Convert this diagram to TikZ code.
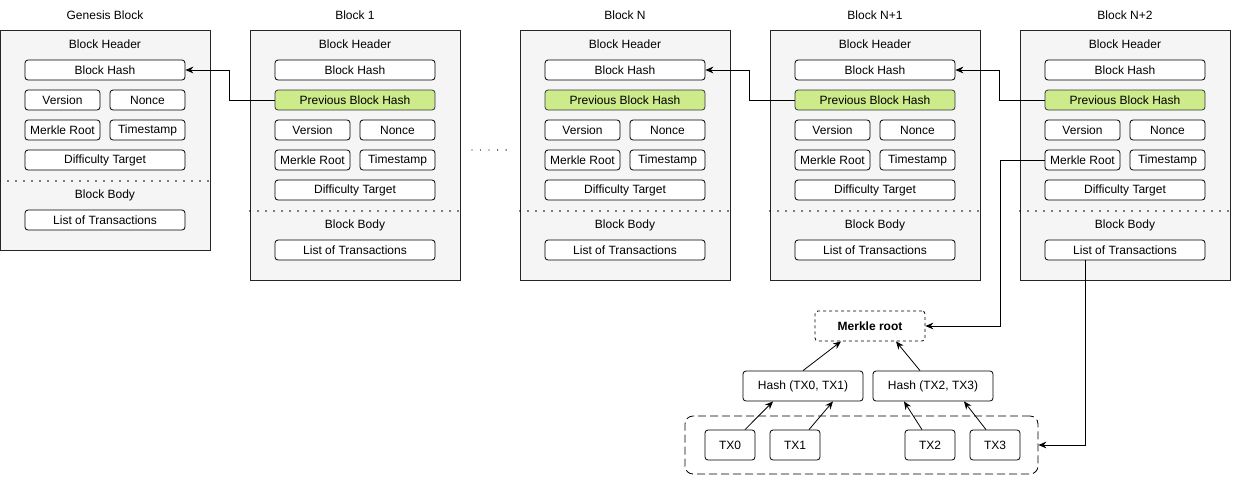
\documentclass[tikz,border=0pt]{standalone}
\usepackage{fontspec}
\setmainfont{Liberation Sans}
\usetikzlibrary{positioning,calc,arrows.meta}
\definecolor{bodygray}{HTML}{F5F5F5}
\definecolor{prevgreen}{HTML}{CDEB8B}
\definecolor{prevline}{HTML}{36393D}
\newcommand*{\txt}{\fontsize{9}{10}\selectfont}
% One chained block: #1 name, #2 left edge, #3 title
\newcommand*{\blk}[3]{%
  \node (#1t) at (#2+105,15) {#3};
  \node[outer,minimum height=187.5pt] (#1) at (#2+105,155) {};
  \node (#1head) at (#2+105,44) {Block Header};
  \node[full] (#1hash) at (#2+105,70) {Block Hash};
  \node[full,prev] (#1prev) at (#2+105,100) {Previous Block Hash};
  \node[half] (#1ver) at (#2+62.5,130) {Version};
  \node[half] (#1non) at (#2+147.5,130) {Nonce};
  \node[half] (#1mrk) at (#2+62.5,160) {Merkle Root};
  \node[half] (#1tim) at (#2+147.5,160) {Timestamp};
  \node[full] (#1dif) at (#2+105,190) {Difficulty Target};
  \draw[sep] (#2,211) -- (#2+210,211);
  \node (#1body) at (#2+105,225) {Block Body};
  \node[full] (#1lst) at (#2+105,250) {List of Transactions};
}

\begin{document}
\begin{tikzpicture}[x=0.75pt,y=-0.75pt,line width=0.6pt,
  every node/.style={font=\txt},
  outer/.style={draw=black!85,fill=bodygray,minimum width=157.5pt,inner sep=0pt},
  field/.style={draw,rounded corners=2.25pt,fill=white,minimum height=15pt,inner sep=0pt},
  full/.style={field,minimum width=120pt},
  half/.style={field,minimum width=56.25pt},
  prev/.style={fill=prevgreen,draw=prevline},
  sep/.style={line width=1.3pt,dash pattern=on 0pt off 6pt,line cap=round},
  link/.style={-{Stealth[length=6pt,width=5pt,inset=2pt]}},
  leaf/.style={field,minimum width=37.5pt,minimum height=22.5pt}]
\useasboundingbox (0,0) rectangle (1233,476);
% Genesis block
\node (gbt) at (105,15) {Genesis Block};
\node[outer,minimum height=165pt] (gb) at (105,140) {};
\node (gbhead) at (105,44) {Block Header};
\node[full] (gbhash) at (105,70) {Block Hash};
\node[half] (gbver) at (62.5,100) {Version};
\node[half] (gbnon) at (147.5,100) {Nonce};
\node[half] (gbmrk) at (62.5,130) {Merkle Root};
\node[half] (gbtim) at (147.5,130) {Timestamp};
\node[full] (gbdif) at (105,160) {Difficulty Target};
\draw[sep] (0,181) -- (210,181);
\node (gbbody) at (105,195) {Block Body};
\node[full] (gblst) at (105,220) {List of Transactions};
% Chained blocks
\blk{b1}{250}{Block 1}
\blk{bn}{520}{Block N}
\blk{bm}{770}{Block N+1}
\blk{bp}{1020}{Block N+2}
% Gap in the chain
\draw[line width=1pt,dash pattern=on 0pt off 6.4pt,line cap=round] (472,150) -- (508,150);
% Previous hash links
\draw[link] (b1prev.west) -- ++(-45,0) |- (gbhash.east);
\draw[link] (bmprev.west) -- ++(-45,0) |- (bnhash.east);
\draw[link] (bpprev.west) -- ++(-45,0) |- (bmhash.east);
% Merkle tree
\node[draw,dash pattern=on 2.25pt off 2.25pt,rounded corners=2.25pt,minimum width=82.5pt,
  minimum height=22.5pt,inner sep=0pt,font=\txt\bfseries] (root) at (870,326) {Merkle root};
\node[field,minimum width=90pt,minimum height=22.5pt] (hl) at (803,386) {Hash (TX0, TX1)};
\node[field,minimum width=90pt,minimum height=22.5pt] (hr) at (933,386) {Hash (TX2, TX3)};
\node[draw,dash pattern=on 6pt off 3pt,rounded corners=6pt,minimum width=264.75pt,
  minimum height=43.5pt,inner sep=0pt] (txs) at (861.5,445) {};
\node[leaf] (tx0) at (730,445) {TX0};
\node[leaf] (tx1) at (795,445) {TX1};
\node[leaf] (tx2) at (930,445) {TX2};
\node[leaf] (tx3) at (995,445) {TX3};
\draw[link] (hl.north) -- ($(root.south)+(-29,0)$);
\draw[link] ($(hr.north)+(-13,0)$) -- ($(root.south)+(26,0)$);
\draw[link] ($(tx0.north)+(15,0)$) -- ($(hl.south)+(-30,0)$);
\draw[link] ($(tx1.north)+(14,0)$) -- ($(hl.south)+(30,0)$);
\draw[link] ($(tx2.north)+(-8,0)$) -- ($(hr.south)+(-29,0)$);
\draw[link] ($(tx3.north)+(-9,0)$) -- ($(hr.south)+(31,0)$);
% Links from Block N+2 into the tree
\draw[link] (bpmrk.west) -- ++(-44,0) |- (root.east);
\draw[link] ($(bplst.south west)+(41,0)$) |- (txs.east);
\end{tikzpicture}
\end{document}
